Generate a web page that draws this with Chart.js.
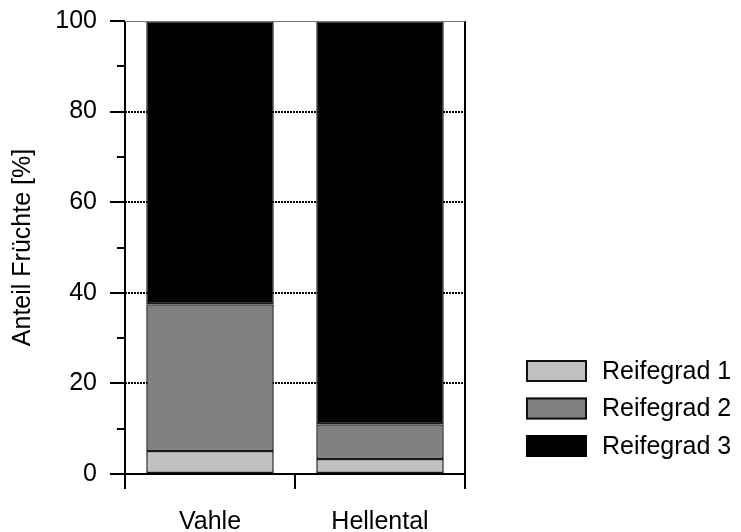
<!DOCTYPE html>
<html>
<head>
<meta charset="utf-8">
<script src="https://cdn.jsdelivr.net/npm/chart.js@4/dist/chart.umd.min.js"></script>
<style>
  html, body { margin: 0; padding: 0; background: #fff; }
  #wrap { width: 741px; height: 532px; }
</style>
</head>
<body>
<div id="wrap"><canvas id="myChart" width="741" height="532"></canvas></div>
<script>
// Anteil der Früchte je Reifegrad, Standorte Vahle und Hellental
var standorte = ['Vahle', 'Hellental'];
var reifegrad1 = [5.1, 3.3];
var reifegrad2 = [32.4, 7.7];
var reifegrad3 = [62.5, 89.0];
var serienNamen = ['Reifegrad 1', 'Reifegrad 2', 'Reifegrad 3'];
var serienFarben = ['#c0c0c0', '#808080', '#000000'];
var yTicks = [0, 20, 40, 60, 80, 100];

var FONT = 'Liberation Sans, Arial, sans-serif';

// axis lines, major/minor tick marks and the plot frame
var achsenPlugin = {
    id: 'achsen',
    afterDatasetsDraw: function(chart) {
        var ctx = chart.ctx;
        var a = chart.chartArea;
        var y = chart.scales.y;
        var x = chart.scales.x;
        ctx.save();
        ctx.strokeStyle = '#000';
        ctx.lineWidth = 2;
        // y axis ticks: long at labels, short in between
        for (var v = 0; v <= 100; v += 10) {
            var py = Math.round(y.getPixelForValue(v));
            var len = (v % 20 === 0) ? 15 : 8;
            ctx.beginPath();
            ctx.moveTo(a.left - len, py);
            ctx.lineTo(a.left, py);
            ctx.stroke();
        }
        // x axis ticks at category boundaries
        var breite = x.getPixelForTick(1) - x.getPixelForTick(0);
        var edges = [x.getPixelForTick(0) - breite / 2];
        for (var i = 0; i < standorte.length; i++) {
            edges.push(x.getPixelForTick(i) + breite / 2);
        }
        edges.forEach(function(px) {
            ctx.beginPath();
            ctx.moveTo(Math.round(px), a.bottom);
            ctx.lineTo(Math.round(px), a.bottom + 15);
            ctx.stroke();
        });
        // axes
        ctx.beginPath();
        ctx.moveTo(a.left, a.top);
        ctx.lineTo(a.left, a.bottom + 15);
        ctx.moveTo(a.left - 15, a.bottom);
        ctx.lineTo(a.right, a.bottom);
        ctx.lineTo(a.right, a.top);
        ctx.stroke();
        // top frame
        ctx.strokeStyle = '#777';
        ctx.lineWidth = 1;
        ctx.beginPath();
        ctx.moveTo(a.left, a.top + 0.5);
        ctx.lineTo(a.right, a.top + 0.5);
        ctx.stroke();
        ctx.restore();
    }
};

// legend drawn to the right of the plot
var legendePlugin = {
    id: 'legende',
    afterDraw: function(chart) {
        var ctx = chart.ctx;
        ctx.save();
        ctx.font = '25px ' + FONT;
        ctx.textBaseline = 'middle';
        ctx.textAlign = 'left';
        chart.data.datasets.forEach(function(ds, i) {
            var top = 360 + i * 37.5;
            ctx.fillStyle = ds.backgroundColor;
            ctx.fillRect(526, top, 61, 22);
            if (i < 2) {
                ctx.strokeStyle = '#111';
                ctx.lineWidth = 2;
                ctx.strokeRect(527, top + 1, 59, 20);
            }
            ctx.fillStyle = '#000';
            ctx.fillText(ds.label, 602, top + 12);
        });
        ctx.restore();
    }
};

var datasets = [reifegrad1, reifegrad2, reifegrad3].map(function(werte, i) {
    return {
        label: serienNamen[i],
        data: werte,
        backgroundColor: serienFarben[i],
        borderColor: '#1a1a1a',
        borderWidth: 1.5,
        borderSkipped: false
    };
});

var ctx = document.getElementById('myChart');
var myChart = new Chart(ctx, {
    type: 'bar',
    data: { labels: standorte, datasets: datasets },
    options: {
        responsive: false,
        animation: false,
        devicePixelRatio: 1,
        layout: { padding: { top: 21, right: 276, left: 0, bottom: 0 } },
        datasets: { bar: { categoryPercentage: 1, barPercentage: 0.75 } },
        plugins: { legend: { display: false }, tooltip: { enabled: false } },
        scales: {
            x: {
                stacked: true,
                border: { display: false },
                grid: { display: false, drawTicks: false },
                ticks: { color: '#000', padding: 33, font: { family: FONT, size: 25 } },
                afterFit: function(s) { s.height = 58; s.paddingLeft = 0; s.paddingRight = 0; }
            },
            y: {
                stacked: true,
                min: 0,
                max: 100,
                border: { display: false, dash: [2, 1] },
                afterBuildTicks: function(s) {
                    s.ticks = yTicks.map(function(v) { return { value: v }; });
                },
                grid: {
                    drawTicks: false,
                    lineWidth: 2,
                    color: function(c) {
                        var v = c.tick ? c.tick.value : 0;
                        return (v > 0 && v < 100) ? '#000' : 'rgba(0,0,0,0)';
                    }
                },
                ticks: { color: '#000', padding: 28, font: { family: FONT, size: 25 } },
                title: {
                    display: true,
                    text: 'Anteil Früchte [%]',
                    color: '#000',
                    font: { family: FONT, size: 25 },
                    padding: { top: 8, bottom: 0 }
                },
                afterFit: function(s) { s.width = 125; s.paddingTop = 0; s.paddingBottom = 0; }
            }
        }
    },
    plugins: [achsenPlugin, legendePlugin]
});
</script>
</body>
</html>
